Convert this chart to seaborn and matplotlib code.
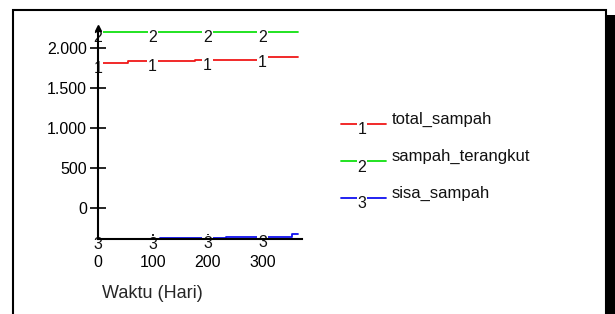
import numpy as np
import pandas as pd
import seaborn as sns
import matplotlib.pyplot as plt
from matplotlib.lines import Line2D
from matplotlib.patches import Rectangle

# data (step series, values hold until the next day)
hari_total = [0, 56, 177, 300, 365]
total_sampah = [1820, 1840, 1858, 1886, 1886]

hari_angkut = [0, 365]
sampah_terangkut = [2200, 2200]

hari_sisa = [0, 113, 234, 353, 365]
sisa_sampah = [-384, -376, -355, -325, -325]

label_hari = [0, 100, 200, 300]  # where the curve numbers sit
y_ticks = [0, 500, 1000, 1500, 2000]
y_ticklabels = ["0", "500", "1.000", "1.500", "2.000"]
x_ticks = [0, 100, 200, 300]

nama = ["total_sampah", "sampah_terangkut", "sisa_sampah"]
warna = ["#f01818", "#10e010", "#1010f0"]

W, H = 615, 314

sns.set_theme(style="white")
plt.rcParams["font.family"] = ["Liberation Sans", "DejaVu Sans"]

fig = plt.figure(figsize=(W / 100, H / 100), dpi=100)
ax = fig.add_axes([97.7 / W, 75 / H, 204 / W, 211 / H])

seri = [(hari_total, total_sampah), (hari_angkut, sampah_terangkut), (hari_sisa, sisa_sampah)]


def nilai_pada(hari, nilai, t):
    i = np.searchsorted(hari, t, side="right") - 1
    return nilai[max(i, 0)]


for k, (hari, nilai) in enumerate(seri):
    df = pd.DataFrame({"hari": hari, "nilai": nilai})
    sns.lineplot(data=df, x="hari", y="nilai", ax=ax, color=warna[k], lw=1.3,
                 drawstyle="steps-post", zorder=1, clip_on=False)
    for t in label_hari:
        ax.annotate(str(k + 1), xy=(t, nilai_pada(hari, nilai, t)), xytext=(0, 1.5),
                    textcoords="offset points", ha="center", va="top", fontsize=11.5,
                    color="#111111", zorder=2,
                    bbox=dict(boxstyle="square,pad=0.05", fc="white", ec="none"))

ax.set_xlim(0, 371)
ax.set_ylim(-385, 2254)
ax.set_yticks(y_ticks)
ax.set_yticklabels(y_ticklabels)
ax.set_xticks(x_ticks)
ax.set_xlabel("Waktu (Hari)", fontsize=13)
ax.set_ylabel("")
ax.xaxis.set_label_coords((152 - 97.7) / 204, -54 / 211)
ax.xaxis.label.set_va("center")

for s in ["top", "right"]:
    ax.spines[s].set_visible(False)
for s in ["left", "bottom"]:
    ax.spines[s].set_color("black")
    ax.spines[s].set_linewidth(1.5)
    ax.spines[s].set_zorder(3)

ax.tick_params(axis="y", direction="inout", length=11.5, width=1.2, pad=2,
               labelsize=11.5, left=True, colors="black")
ax.tick_params(axis="x", direction="inout", length=7, width=1.2, pad=8,
               labelsize=11.5, bottom=True, colors="black")
# small arrow head on top of the y axis
ax.plot(0, 1, marker="^", ms=5, color="black", transform=ax.transAxes,
        clip_on=False, zorder=4)

# legend drawn by hand, Stella style
leg_y = [124, 161, 198]
for k in range(3):
    yf = 1 - leg_y[k] / H
    fig.add_artist(Line2D([340.7 / W, 386 / W], [yf, yf], color=warna[k], lw=1.3))
    fig.text(362 / W, yf + 1.5 / H, str(k + 1), ha="center", va="top", fontsize=11.5,
             color="#111111",
             bbox=dict(boxstyle="square,pad=0.05", fc="white", ec="none"))
    fig.text(392 / W, yf + 5 / H, nama[k], ha="left", va="center", fontsize=12,
             color="#111111")

# frame and shadow
fig.add_artist(Rectangle((13 / W, -0.05), (606 - 13) / W, 1.05 - 10 / H,
                         transform=fig.transFigure, fill=False, ec="black", lw=1.5))
fig.add_artist(Rectangle((607 / W, 0), 8 / W, 1 - 15 / H,
                         transform=fig.transFigure, fc="black", ec="none"))

fig.savefig("out.png", dpi=100)
